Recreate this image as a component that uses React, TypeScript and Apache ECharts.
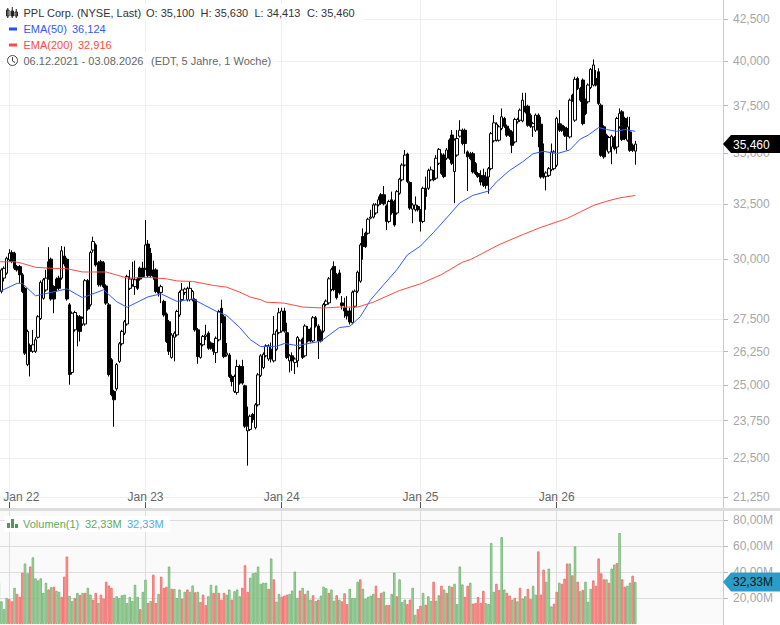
import React, { useEffect, useRef } from "react";
import * as echarts from "echarts";

const FONT = '"Liberation Sans", Arial, sans-serif';

// [open, close, low, high], one row per period starting 06.12.2021
const candleRows: number[][] = [
[28700,29250,28600,29350],[28640,29550,28560,29620],[29200,29620,29060,29700],[29410,30050,29340,30120],[29980,30270,29900,30450],
[30300,29910,29840,30400],[30270,29620,29550,30340],[29690,29550,29480,29760],[29690,29340,29000,29760],[29340,28640,28570,29410],
[28770,26190,26120,28840],[25760,27030,25700,27100],[26480,26260,25320,26560],[26260,26510,26200,27090],[26260,26700,26200,26800],
[26800,27610,26750,27680],[27540,29020,27480,29100],[28360,29130,28300,29200],[28700,29200,28630,29550],[29900,29200,29130,30540],
[30010,28330,28260,30080],[28840,28330,27750,28900],[29160,28770,28630,29230],[29200,28770,28700,29300],[29200,30380,29130,30590],
[30150,29800,29700,30560],[30010,28330,28260,30080],[28090,25390,25020,28160],[25470,27750,25390,27820],[27090,27780,27020,27850],
[27610,27160,26450,27680],[27610,27030,26640,27680],[27320,27550,27250,27610],[27320,29090,27250,29160],[29090,27920,27850,29160],
[28090,30300,28020,30380],[30410,30790,30300,31010],[30640,29760,29690,30710],[29860,28920,28840,29930],[29900,28920,28840,29980],
[29860,28840,28770,29930],[28870,28160,28090,28940],[28090,25390,25320,28160],[25940,24660,24600,26000],[24780,24480,23540,24840],
[24870,25760,24800,25820],[25880,26550,25820,26620],[26550,27030,26480,27090],[26960,27410,26890,27480],[27320,29270,27250,29340],
[28770,29160,28700,29550],[28920,29160,28840,29900],[28840,29130,28500,29950],[29160,28770,28700,29230],[29620,29160,29090,29690],
[29620,29270,29200,29900],[29620,30640,29550,31770],[30680,29300,29230,30860],[30270,29300,29230,30500],[29550,29270,29130,29950],
[29550,28640,28570,29620],[28770,28570,28430,28840],[28600,28840,28160,28920],[28230,27680,27610,28300],[27720,26640,26580,27780],
[27410,26260,26120,27480],[26030,26890,25980,26960],[26800,26960,25880,27030],[26890,27820,26830,27890],[27680,28600,27610,28670],
[28300,28700,28230,28990],[28600,28740,28500,28800],[28300,28770,28230,28840],[28300,28770,28230,29060],[28300,28640,28230,28700],
[28300,27090,27020,28360],[27090,26060,25790,27160],[26030,26510,25980,26580],[26510,26830,26450,26890],[26830,26890,26700,27290],
[26960,26380,26320,27030],[26580,26380,26320,26640],[26510,26260,26120,26580],[26210,26760,25820,26830],[26700,27820,26640,27890],
[27950,27410,27350,28300],[27610,26060,26000,27680],[26120,26190,26060,26580],[26120,25320,25260,26190],[25320,25140,24960,25390],
[24780,25320,24720,25390],[24740,25690,24660,25940],[25690,25080,25020,25760],[25690,25080,25020,25940],[24980,23560,23500,25020],
[23400,23560,22250,24240],[23450,23900,23400,23960],[23960,23790,23680,24020],[23510,24300,23450,24360],[24300,25380,24240,25450],
[25360,26090,25300,26150],[25650,26150,25590,26220],[26090,26470,26030,26530],[25970,26470,25900,26530],[26340,25970,25840,26600],
[25900,26920,25840,27640],[26340,27040,26280,27110],[26980,27770,26920,27970],[27040,27840,26980,27970],[27840,27040,26980,27970],
[26980,26030,25970,27370],[25900,26090,25470,26150],[26090,25900,25530,26220],[25840,25970,25410,26030],[25900,26790,25660,26850],
[26400,26660,26340,26720],[26730,26030,25970,26790],[26090,27240,26030,27310],[27110,26660,26600,27240],[27110,26660,26600,27180],
[26660,27570,26600,27640],[27570,27240,27180,27640],[27240,26660,25970,27310],[27040,26660,26600,27110],[27040,28100,26980,28170],
[28100,28240,28030,28310],[28170,29170,28100,29240],[28720,29560,28650,29640],[29700,28720,28650,29920],[29350,28380,28310,29420],
[29420,28580,28510,29560],[28170,28060,27900,28450],[27970,27840,27570,28380],[27840,27640,27500,28450],[27840,27400,27300,27970],
[27370,28610,27310,28680],[28030,28650,27970,28720],[28650,29450,28580,29520],[29070,30640,29000,30720],[31010,30570,29990,31380],
[31160,30570,30500,31230],[31160,31800,31100,31870],[31850,31900,31800,32240],[31900,32470,31840,32550],[32090,32470,32010,32550],
[32470,32710,32400,32870],[32950,32550,32470,33030],[32950,32520,32450,33370],[32420,31700,31310,32490],[31700,32630,31620,32710],
[32710,32090,32010,33100],[32630,31540,31460,32710],[32090,33100,32010,33180],[33020,33700,32950,33770],[33670,34400,33600,34490],
[34400,34900,34330,35160],[34950,33590,33510,35020],[33540,32320,32240,33600],[32270,32470,31620,32550],[32240,32470,32160,32870],
[32390,32240,32160,32470],[32210,31700,31240,32270],[31700,33260,31620,33340],[33260,32870,32240,33830],[33260,34130,33180,34220],
[33670,34160,33600,34330],[34080,33670,33600,34160],[33750,34740,33670,34900],[34490,35190,34400,35260],[34900,33990,33910,34990],
[34900,33830,33750,34990],[34740,35160,34660,35260],[35670,34740,34660,35750],[35930,34490,34400,36190],[34080,35670,32550,35750],
[34900,35750,34820,36190],[35870,36180,35800,36710],[36180,35490,35400,36270],[36180,35490,34970,36270],[35060,34810,33130,35140],
[34970,34720,34640,35060],[34970,34060,33980,35060],[34470,33980,33900,34550],[33980,33840,33760,34060],[33890,33560,33400,34140],
[33890,33400,33320,34220],[33810,33400,33240,34060],[33810,34220,33000,34300],[34220,36000,34140,36090],[35630,36570,35550,36980],
[35660,36500,35590,36600],[35660,36360,35590,36450],[36270,36890,36180,37340],[36800,36390,36300,36890],[36390,35920,35830,36480],
[36180,35920,35830,36270],[36090,35400,35000,36180],[35570,36750,35490,36840],[36620,36750,36530,36840],[36710,37250,36620,37340],
[36670,37790,36600,38200],[37460,37150,37070,38200],[37460,36440,36360,37540],[36980,36390,36300,37070],[36360,36530,35830,36620],
[36180,36980,36090,37070],[36980,36180,35300,37070],[36500,33810,33730,36890],[33890,33810,33730,35490],[33840,34010,33160,34090],
[33890,34220,33810,34300],[34170,35060,34090,35490],[34220,35060,34140,35140],[34390,36800,34300,36890],[36530,36180,36090,37250],
[36440,36180,36090,36530],[36320,35920,35830,36400],[36270,35870,35140,36360],[35830,37790,35750,37880],[38070,37790,37700,38150],
[36710,38950,36620,39100],[39000,38440,38350,39100],[38440,37790,37700,38530],[38910,36530,36440,39000],[37790,37070,36980,37880],
[37700,38630,37610,38720],[38490,39520,38400,39600],[38630,39770,38550,40090],[39000,38630,38550,39480],[39380,37610,37520,39580],
[37520,34890,34810,37610],[36360,34810,34720,36440],[35920,35230,35140,36000],[35060,35800,34970,35880],[35310,35870,34440,35950],
[35800,35230,35140,35880],[35310,36800,34970,36890],[36360,37070,36270,37340],[37160,35700,35620,37250],[36800,35750,35660,36890],
[35660,36360,35580,36890],[36090,35140,35060,36890],[35400,35140,35060,35490],[35100,35460,34413,35630],
];

const volumes: number[] = [
31.7,17.4,11.4,20,19.2,17.4,27.8,23.1,20.8,39.5,46.5,39,44.2,51.2,35.1,33.5,35.1,23.9,31.7,26.5,
28.3,28.6,25.5,24.7,20.8,36.4,51.9,21.6,17.7,20,23.9,22.3,23.9,23.9,27.8,22.6,18.7,23.9,16.1,22.6,
19.5,32.5,29.6,27.8,20,21.3,20,22.1,22.6,16.1,20.8,17.7,30.1,20.8,11.4,24.7,34,16.1,17.7,37.9,
16.1,23.1,36.4,27.8,28.6,44.2,27,27,20,26.5,19.5,24.7,26.5,24.7,29.6,24.4,24.7,16.9,22.6,14.5,
21.3,30.1,23.9,29.6,23.9,18.7,23.9,22.6,26.5,18.7,25.2,26.5,21.3,27.8,45.2,24.7,35.6,39,39.5,44.2,
30.9,31.7,31.7,27,50.4,34.3,17.1,23.1,20.8,21.8,22.6,23.1,25.7,40.3,20,25.7,27.8,23.1,25.7,18.7,
22.1,17.7,18.7,21.8,28.6,27.5,23.9,26.5,17.9,22.1,18.7,17.4,23.6,15.3,27,20,20,32.5,34.3,27,
19.5,20.8,21.8,23.1,29.4,20,23.9,24.9,14.5,14.5,23.1,39.5,21.3,34.3,16.9,18.7,15.3,18.7,27.8,7,
11.4,14,23.9,14.8,21.3,17.7,32.5,17.9,22.1,29.4,26.5,23.9,29.4,28.6,30.9,15.3,44.2,30.4,20.8,29.4,
31.7,15.6,16.1,20.8,16.1,25.5,16.1,15.3,62.3,24.7,30.9,26,66.8,26.5,23.9,21.8,18.7,20,17.4,27.8,
19.5,21.3,27,19.2,29.4,22.6,55.8,22.6,41.8,32.5,42.6,13.5,15.6,24.7,31.7,30.9,34.8,46.5,46.5,37.4,
59.7,32.5,25.2,26.2,32.5,17.1,27,33.5,29.4,50.4,39,34.3,34.3,31.7,42.6,45.7,46.8,69.9,34.3,28.6,
29.4,31.7,37.1,32.33,
];

// 1 = green bar, 0 = red bar
const volumeUp: number[] = [
1,1,1,1,0,0,1,0,0,0,1,1,0,1,1,1,1,1,1,0,
1,0,1,1,0,0,0,1,1,0,1,0,1,0,1,1,0,0,1,0,
0,0,0,0,1,1,1,1,1,1,1,1,1,1,0,1,1,0,1,0,
0,1,0,0,0,1,0,1,1,1,0,1,0,1,1,0,1,0,0,0,
1,1,0,1,0,0,0,1,1,0,1,1,1,0,0,0,1,1,1,1,
1,1,1,0,1,0,1,1,0,0,0,1,1,1,1,0,1,0,1,1,
0,1,0,1,1,1,0,1,1,0,1,0,0,0,1,1,1,1,0,1,
1,1,1,1,0,1,0,1,0,0,1,1,0,1,1,1,0,0,1,1,
0,0,1,0,1,1,0,1,1,0,1,0,1,0,1,1,1,1,0,0,
1,0,0,0,0,0,1,1,1,1,0,0,1,1,0,0,1,0,1,0,
1,1,0,0,1,1,0,0,0,1,1,1,0,0,1,0,0,0,1,0,
1,0,1,0,1,1,1,0,0,0,0,0,1,0,1,1,0,1,0,0,
1,1,0,1,
];

// Moving averages as [period index, value]
const ema50Points: number[][] = [
[0,28620],[7,28980],[9,28980],[14,28460],[20,28600],[26,28750],[32,28380],[40,28710],[45,28220],[49,27990],
[57,28420],[62,28540],[68,28230],[74,28330],[83,27830],[87,27660],[92,27180],[96,26710],[100,26440],[106,26450],
[109,26560],[114,26480],[123,26650],[130,27180],[134,27230],[138,27610],[142,28300],[147,28930],[152,29560],[156,30200],
[161,30590],[166,31200],[172,32000],[176,32560],[181,32920],[187,33130],[190,33570],[195,34130],[200,34560],[204,34970],
[208,35090],[213,34970],[218,35160],[222,35720],[225,35920],[229,36320],[232,36220],[236,36120],[239,36220],[243,36124],
];
const ema200Points: number[][] = [
[0,29900],[6,29900],[9,29830],[14,29660],[20,29620],[26,29600],[32,29460],[41,29460],[49,29200],[57,29230],
[64,29170],[68,29080],[74,29060],[82,28890],[87,28820],[92,28610],[96,28410],[100,28300],[102,28200],[109,28160],
[116,28000],[124,27960],[130,28000],[137,28000],[143,28200],[153,28680],[161,28960],[169,29350],[177,29880],[180,29990],
[191,30650],[199,31050],[207,31430],[217,31840],[222,32140],[227,32440],[232,32640],[237,32800],[243,32916],
];

const priceTicks = [21250, 22500, 23750, 25000, 26250, 27500, 30000, 32500, 35000, 37500, 40000, 42500];
const volumeTicks = [20, 40, 60, 80];
const janIndices = [4, 56, 108, 161, 213];
const FIRST_WEEK = "2021-12-06";
const TOTAL_SLOTS = 277;
const BLEED = 10; // the chart's div starts this far left of the page, so the first period can sit off its edge

const weekLabels: string[] = [];
{
  const start = Date.parse(FIRST_WEEK + "T00:00:00Z");
  for (let i = 0; i < TOTAL_SLOTS; i++) {
    weekLabels.push(new Date(start + i * 7 * 86400000).toISOString().slice(0, 10));
  }
}

const GREEN = "#6cb06d";
const GREEN_FILL = "#a8d9a7";
const RED = "#ef6561";
const RED_FILL = "#fa9c9a";
const AXIS_GREY = "#a6a6a6";

const legendText = (text: string, x: number, y: number, fill: string) => ({
  type: "text",
  x,
  y,
  z: 30,
  style: { text, fill, font: `11px ${FONT}`, verticalAlign: "middle" },
});

export default function App() {
  const ref = useRef<HTMLDivElement>(null);
  useEffect(() => {
    if (!ref.current) return;
    const chart = echarts.init(ref.current, undefined, { renderer: "svg" });
    const fmtPrice = (v: number) => Math.round(v).toLocaleString("en-US");
    const fmtVol = (v: number) => `${Math.round(v)},00M`;
    const isJan = (i: number) => janIndices.includes(i);
    const gridLeft = BLEED - 2.5;
    chart.setOption({
      animation: false,
      backgroundColor: "#ffffff",
      textStyle: { fontFamily: FONT },
      grid: [
        { left: gridLeft, width: 725.5, top: 0, height: 508, show: false },
        { left: gridLeft, width: 725.5, top: 511, height: 113, show: true, backgroundColor: "#fafafa", borderWidth: 0 },
      ],
      xAxis: [
        {
          type: "category",
          gridIndex: 0,
          data: weekLabels,
          axisLine: { show: false },
          axisTick: { show: true, inside: true, length: 6, alignWithLabel: true, interval: isJan, lineStyle: { color: "#555", width: 1 } },
          splitLine: { show: true, alignWithLabel: true, interval: isJan, lineStyle: { color: "#eeeeee", width: 1 } },
          axisLabel: {
            show: true,
            inside: true,
            margin: 5,
            interval: isJan,
            color: "#666",
            fontSize: 12,
            fontFamily: FONT,
            hideOverlap: false,
            formatter: (v: string) => {
              const t = `Jan ${v.slice(2, 4)}`;
              return v === weekLabels[janIndices[0]] ? `{first|${t}}` : t;
            },
            rich: { first: { padding: [0, 0, 0, 24], color: "#666", fontSize: 12, fontFamily: FONT } },
          },
        },
        {
          type: "category",
          gridIndex: 1,
          data: weekLabels,
          axisLine: { show: false },
          axisLabel: { show: false },
          axisTick: { show: false },
          splitLine: { show: true, alignWithLabel: true, interval: isJan, lineStyle: { color: "#dddddd", width: 1 } },
        },
      ],
      yAxis: [
        {
          type: "log",
          logBase: Math.E,
          gridIndex: 0,
          position: "right",
          min: 20925,
          max: 43697,
          axisLine: { show: false },
          axisTick: { show: true, length: 5, customValues: priceTicks, lineStyle: { color: "#bbbbbb" } },
          splitLine: { show: true, lineStyle: { color: "#eeeeee", width: 1 } },
          axisLabel: { show: true, customValues: priceTicks, margin: 10, color: AXIS_GREY, fontSize: 12, fontFamily: FONT, formatter: fmtPrice },
        },
        {
          type: "value",
          gridIndex: 1,
          position: "right",
          min: 0,
          max: 86.92,
          axisLine: { show: false },
          axisTick: { show: true, length: 5, customValues: volumeTicks, lineStyle: { color: "#bbbbbb" } },
          splitLine: { show: true, lineStyle: { color: "#dddddd", width: 1 } },
          axisLabel: { show: true, customValues: volumeTicks, margin: 10, color: AXIS_GREY, fontSize: 12, fontFamily: FONT, formatter: fmtVol },
        },
      ],
      series: [
        {
          type: "candlestick",
          xAxisIndex: 0,
          yAxisIndex: 0,
          data: candleRows,
          barWidth: 3,
          itemStyle: { color: "#ffffff", color0: "#000000", borderColor: "#000000", borderColor0: "#000000", borderWidth: 1 },
          silent: true,
          z: 3,
        },
        {
          type: "line",
          xAxisIndex: 0,
          yAxisIndex: 0,
          data: ema50Points,
          showSymbol: false,
          lineStyle: { color: "#2f5bff", width: 1 },
          silent: true,
          z: 5,
        },
        {
          type: "line",
          xAxisIndex: 0,
          yAxisIndex: 0,
          data: ema200Points,
          showSymbol: false,
          lineStyle: { color: "#ff4a3d", width: 1 },
          silent: true,
          z: 5,
        },
        {
          type: "bar",
          xAxisIndex: 1,
          yAxisIndex: 1,
          data: volumes.map((v, i) => ({
            value: v,
            itemStyle: {
              color: volumeUp[i] ? GREEN_FILL : RED_FILL,
              borderColor: volumeUp[i] ? GREEN : RED,
              borderWidth: 0.8,
            },
          })),
          barWidth: 2.4,
          silent: true,
        },
      ],
    });

    const lastClose = candleRows[candleRows.length - 1][1];
    const lastVolume = volumes[volumes.length - 1];
    const py = chart.convertToPixel({ yAxisIndex: 0 }, lastClose) as number;
    const vy = chart.convertToPixel({ yAxisIndex: 1 }, lastVolume) as number;
    const tag = (y: number, fill: string, text: string, textFill: string, h: number) => [
      {
        type: "polygon",
        z: 40,
        shape: { points: [[723, y], [731, y - h], [780, y - h], [780, y + h], [731, y + h]] },
        style: { fill },
      },
      { type: "text", x: 733, y: y + 0.5, z: 41, style: { text, fill: textFill, font: `12px ${FONT}`, verticalAlign: "middle" } },
    ];
    const lab = (n: number) => n.toLocaleString("en-US");
    chart.setOption({
      graphic: [
        {
          type: "group",
          x: BLEED,
          children: [
            { type: "rect", z: 20, shape: { x: 723, y: 0, width: 1, height: 625 }, style: { fill: "#cccccc" } },
            { type: "rect", z: 20, shape: { x: 0, y: 508, width: 780, height: 3 }, style: { fill: "#dddddd" } },
            { type: "rect", z: 25, shape: { x: 4, y: 4, width: 360, height: 16 }, style: { fill: "rgba(255,255,255,0.85)" } },
            { type: "rect", z: 25, shape: { x: 4, y: 20, width: 122, height: 16 }, style: { fill: "rgba(255,255,255,0.85)" } },
            { type: "rect", z: 25, shape: { x: 4, y: 36, width: 122, height: 16 }, style: { fill: "rgba(255,255,255,0.85)" } },
            { type: "rect", z: 25, shape: { x: 4, y: 52, width: 272, height: 16 }, style: { fill: "rgba(255,255,255,0.85)" } },
            { type: "rect", z: 25, shape: { x: 4, y: 516, width: 166, height: 16 }, style: { fill: "rgba(255,255,255,0.85)" } },
            // candlestick icon
            { type: "rect", z: 30, shape: { x: 6.5, y: 10, width: 2.5, height: 6 }, style: { fill: "#fff", stroke: "#222", lineWidth: 1 } },
            { type: "line", z: 30, shape: { x1: 7.75, y1: 8, x2: 7.75, y2: 18 }, style: { stroke: "#222", lineWidth: 1 } },
            { type: "rect", z: 30, shape: { x: 11, y: 11, width: 2.5, height: 5 }, style: { fill: "#222", stroke: "#222", lineWidth: 1 } },
            { type: "line", z: 30, shape: { x1: 12.25, y1: 7, x2: 12.25, y2: 18 }, style: { stroke: "#222", lineWidth: 1 } },
            { type: "rect", z: 30, shape: { x: 15, y: 12, width: 2.5, height: 4 }, style: { fill: "#fff", stroke: "#222", lineWidth: 1 } },
            { type: "line", z: 30, shape: { x1: 16.25, y1: 9, x2: 16.25, y2: 18 }, style: { stroke: "#222", lineWidth: 1 } },
            legendText("PPL Corp. (NYSE, Last)", 23.5, 12.5, "#333333"),
            legendText("O: 35,100", 146, 12.5, "#333333"),
            legendText("H: 35,630", 200.5, 12.5, "#333333"),
            legendText("L: 34,413", 254.5, 12.5, "#333333"),
            legendText("C: 35,460", 307, 12.5, "#333333"),
            { type: "rect", z: 30, shape: { x: 9, y: 27.5, width: 8, height: 3 }, style: { fill: "#1f4fff" } },
            legendText("EMA(50)", 23.5, 28.5, "#2f5bff"),
            legendText("36,124", 72, 28.5, "#2f5bff"),
            { type: "rect", z: 30, shape: { x: 9, y: 43.5, width: 8, height: 3 }, style: { fill: "#ff4a3d" } },
            legendText("EMA(200)", 23.5, 44.5, "#ff4a3d"),
            legendText("32,916", 78, 44.5, "#ff4a3d"),
            { type: "circle", z: 30, shape: { cx: 12.5, cy: 60.5, r: 5 }, style: { fill: "none", stroke: "#444", lineWidth: 1 } },
            { type: "polyline", z: 30, shape: { points: [[12.5, 57], [12.5, 61], [15, 62.5]] }, style: { fill: "none", stroke: "#444", lineWidth: 1 } },
            legendText("06.12.2021 - 03.08.2026", 23.5, 60.5, "#666666"),
            legendText("(EDT, 5 Jahre, 1 Woche)", 151, 60.5, "#666666"),
            // volume legend
            { type: "rect", z: 30, shape: { x: 7, y: 523, width: 3, height: 5 }, style: { fill: "#4d9a50" } },
            { type: "rect", z: 30, shape: { x: 11, y: 519, width: 3, height: 9 }, style: { fill: "#4d9a50" } },
            { type: "rect", z: 30, shape: { x: 15, y: 524, width: 3, height: 4 }, style: { fill: "#4d9a50" } },
            legendText("Volumen(1)", 23, 524, "#5fa860"),
            legendText("32,33M", 85, 524, "#5fa860"),
            legendText("32,33M", 127, 524, "#4bb0dc"),
            ...tag(py, "#000000", lab(lastClose), "#ffffff", 9),
            ...tag(vy, "#2a9cc6", "32,33M", "#111111", 9.5),
          ],
        },
      ],
    });
    return () => chart.dispose();
  }, []);
  return <div ref={ref} style={{ position: "absolute", left: -BLEED, top: 0, width: 780 + BLEED, height: 625 }} />;
}
